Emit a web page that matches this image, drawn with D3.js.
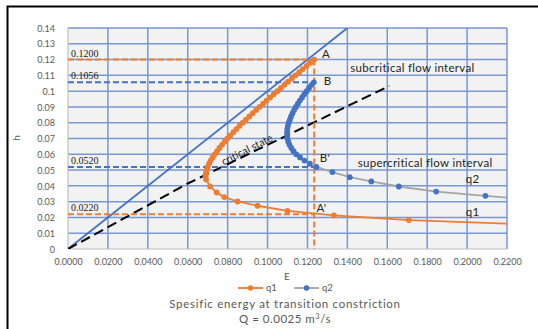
<!DOCTYPE html>
<html>
<head>
<meta charset="utf-8">
<script src="https://cdn.jsdelivr.net/npm/d3@7"></script>
<style>
  body { margin: 0; background: #fff; }
  svg { display: block; }
</style>
</head>
<body>
<svg width="538" height="329"></svg>
<script>
const width = 538;
const height = 329;

const margin = ({top: 28, right: 31, bottom: 80, left: 68});

// q1 series (orange): specific energy E and depth h
const q1E = [0.0692, 0.0690, 0.0691, 0.0695, 0.0700, 0.0707, 0.0715, 0.0725, 0.0735, 0.0747,
  0.0759, 0.0772, 0.0785, 0.0799, 0.0814, 0.0829, 0.0844, 0.0860, 0.0876, 0.0892,
  0.0909, 0.0926, 0.0943, 0.0960, 0.0978, 0.0995, 0.1013, 0.1031, 0.1049, 0.1067,
  0.1085, 0.1103, 0.1122, 0.1140, 0.1159, 0.1177, 0.1196, 0.1215, 0.1234];
const q1H = [0.044, 0.046, 0.048, 0.050, 0.052, 0.054, 0.056, 0.058, 0.060, 0.062,
  0.064, 0.066, 0.068, 0.070, 0.072, 0.074, 0.076, 0.078, 0.080, 0.082,
  0.084, 0.086, 0.088, 0.090, 0.092, 0.094, 0.096, 0.098, 0.100, 0.102,
  0.104, 0.106, 0.108, 0.110, 0.112, 0.114, 0.116, 0.118, 0.120];
const q1LowE = [0.0712, 0.0745, 0.0783, 0.0850, 0.0950, 0.1100, 0.1333, 0.1708, 0.2325];
const q1LowH = [0.0396, 0.0358, 0.0329, 0.0301, 0.0274, 0.0242, 0.0213, 0.0183, 0.0155];

// q2 series (blue markers, gray line)
const q2E = [0.1232, 0.1221, 0.1208, 0.1196, 0.1184, 0.1173, 0.1162, 0.1152, 0.1142, 0.1133,
  0.1125, 0.1118, 0.1112, 0.1106, 0.1102, 0.1099, 0.1098, 0.1098, 0.1100, 0.1104,
  0.1110, 0.1119, 0.1130, 0.1144, 0.1163, 0.1185, 0.1212, 0.1245,
  0.1325, 0.1412, 0.1520, 0.1658, 0.1845, 0.2092, 0.2350];
const q2H = [0.1056, 0.104, 0.102, 0.100, 0.098, 0.096, 0.094, 0.092, 0.090, 0.088,
  0.086, 0.084, 0.082, 0.080, 0.078, 0.076, 0.074, 0.072, 0.070, 0.068,
  0.066, 0.064, 0.062, 0.060, 0.058, 0.056, 0.054, 0.052,
  0.0487, 0.0455, 0.0428, 0.0396, 0.0364, 0.0337, 0.0310];

// reference lines
const lineEqE = [0, 0.14];
const lineEqH = [0, 0.14];
const critE = [0, 0.06, 0.161];
const critH = [0, 0.0415, 0.1033];

const levels = [
  {h: 0.1200, e: 0.1234, label: '0.1200', color: '#ed7d31'},
  {h: 0.1056, e: 0.1232, label: '0.1056', color: '#4472c4'},
  {h: 0.0520, e: 0.1245, label: '0.0520', color: '#4472c4'},
  {h: 0.0220, e: 0.1234, label: '0.0220', color: '#ed7d31'}
];
const pointLabels = [
  {e: 0.1273, h: 0.1210, text: 'A'},
  {e: 0.1282, h: 0.1040, text: 'B'},
  {e: 0.1262, h: 0.0552, text: "B'"},
  {e: 0.1245, h: 0.0232, text: "A'"},
  {e: 0.1993, h: 0.0420, text: 'q2'},
  {e: 0.1993, h: 0.0210, text: 'q1'},
  {e: 0.1415, h: 0.1124, text: 'subcritical flow interval'},
  {e: 0.1452, h: 0.0520, text: 'supercritical flow interval'}
];

const xTicks = d3.range(0, 12).map(i => i * 0.02);
const yTicks = d3.range(0, 15).map(i => i * 0.01);

const x = d3.scaleLinear().domain([0, 0.22]).range([margin.left, width - margin.right]);
const y = d3.scaleLinear().domain([0, 0.14]).range([height - margin.bottom, margin.top]);

const svg = d3.select('svg');
const font = 'Lato, "Open Sans", sans-serif';

// outer frame
svg.append('rect').attr('x', 7.5).attr('y', 6.5).attr('width', 560).attr('height', 360)
    .attr('fill', '#fff').attr('stroke', '#000').attr('stroke-width', 2);

svg.append('rect')
    .attr('x', x(0)).attr('y', y(0.14))
    .attr('width', x(0.22) - x(0)).attr('height', y(0) - y(0.14))
    .attr('fill', '#f2f2f2');

svg.append('defs').append('clipPath').attr('id', 'plot')
  .append('rect')
    .attr('x', x(0)).attr('y', y(0.14))
    .attr('width', x(0.22) - x(0)).attr('height', y(0) - y(0.14));

// gridlines
svg.append('g').attr('stroke', '#7897d6').attr('stroke-width', 1.5)
  .selectAll('line').data(yTicks.slice(1)).join('line')
    .attr('x1', x(0)).attr('x2', x(0.22))
    .attr('y1', d => y(d)).attr('y2', d => y(d));
svg.append('g').attr('stroke', '#7897d6').attr('stroke-width', 1.5)
  .selectAll('line').data(xTicks.slice(1)).join('line')
    .attr('y1', y(0)).attr('y2', y(0.14))
    .attr('x1', d => x(d)).attr('x2', d => x(d));

// axis lines
svg.append('line').attr('x1', x(0)).attr('x2', x(0.22)).attr('y1', y(0)).attr('y2', y(0))
    .attr('stroke', '#bfbfbf').attr('stroke-width', 1.2);
svg.append('line').attr('x1', x(0)).attr('x2', x(0)).attr('y1', y(0)).attr('y2', y(0.14))
    .attr('stroke', '#bfbfbf').attr('stroke-width', 1.2);

const xAxis = g => g.attr('transform', `translate(0,${y(0) + 7})`)
    .call(d3.axisBottom(x).tickValues(xTicks).tickFormat(d3.format('.4f')).tickSize(0))
    .call(g => g.select('.domain').remove())
    .call(g => g.selectAll('text').attr('fill', '#595959').attr('font-size', 9).attr('font-family', font));

const yAxis = g => g.attr('transform', `translate(${x(0) - 10},0)`)
    .call(d3.axisLeft(y).tickValues(yTicks).tickFormat(d => String(+d.toFixed(2))).tickSize(0))
    .call(g => g.select('.domain').remove())
    .call(g => g.selectAll('text').attr('fill', '#595959').attr('font-size', 9)
        .attr('font-family', font).attr('dy', '0.35em'));

svg.append('g').call(xAxis);
svg.append('g').call(yAxis);

const plot = svg.append('g').attr('clip-path', 'url(#plot)');

// h = E line
plot.append('path')
    .datum(d3.zip(lineEqE, lineEqH))
    .attr('fill', 'none').attr('stroke', '#4472c4').attr('stroke-width', 1.8)
    .attr('d', d3.line().x(d => x(d[0])).y(d => y(d[1])));

// critical state line
plot.append('path')
    .datum(d3.zip(critE, critH))
    .attr('fill', 'none').attr('stroke', '#000').attr('stroke-width', 2)
    .attr('stroke-dasharray', '10,5')
    .attr('d', d3.line().x(d => x(d[0])).y(d => y(d[1])));

// level dashes
plot.selectAll('.lvl').data(levels).join('line').attr('class', 'lvl')
    .attr('x1', x(0)).attr('x2', d => x(d.e))
    .attr('y1', d => y(d.h)).attr('y2', d => y(d.h))
    .attr('stroke', d => d.color).attr('stroke-width', 2).attr('stroke-dasharray', '6,3');
plot.append('line')
    .attr('x1', x(levels[0].e)).attr('x2', x(levels[0].e))
    .attr('y1', y(levels[0].h)).attr('y2', y(0))
    .attr('stroke', '#ed7d31').attr('stroke-width', 2).attr('stroke-dasharray', '6,3');

svg.append('g').attr('font-family', '"Liberation Serif", serif').attr('font-size', 10).attr('fill', '#1a1a1a')
  .selectAll('text').data(levels).join('text')
    .attr('x', x(0) + 3).attr('y', d => y(d.h) - 3)
    .text(d => d.label);

const line = d3.line().x(d => x(d[0])).y(d => y(d[1]));

// q2 (gray line + blue markers)
const q2 = d3.zip(q2E, q2H);
plot.append('path').datum(q2)
    .attr('fill', 'none').attr('stroke', '#a5a5a5').attr('stroke-width', 1.8).attr('d', line);
plot.append('g').attr('fill', '#4472c4')
  .selectAll('circle').data(q2).join('circle')
    .attr('cx', d => x(d[0])).attr('cy', d => y(d[1])).attr('r', 2.9);

// q1 (orange)
const q1 = d3.zip(q1E, q1H).reverse().concat(d3.zip(q1LowE, q1LowH));
plot.append('path').datum(q1)
    .attr('fill', 'none').attr('stroke', '#ed7d31').attr('stroke-width', 1.8).attr('d', line);
plot.append('g').attr('fill', '#ed7d31')
  .selectAll('circle').data(q1).join('circle')
    .attr('cx', d => x(d[0])).attr('cy', d => y(d[1])).attr('r', 2.9);

// annotations
svg.append('g').attr('font-family', font).attr('font-size', 11.5).attr('fill', '#262626')
    .attr('letter-spacing', 0.3)
  .selectAll('text').data(pointLabels).join('text')
    .attr('x', d => x(d.e)).attr('y', d => y(d.h))
    .text(d => d.text);

svg.append('text')
    .attr('transform', `translate(${x(0.0905)},${y(0.0609)}) rotate(-27)`)
    .attr('text-anchor', 'middle')
    .attr('font-family', font).attr('font-size', 10.5).attr('fill', '#262626')
    .text('critical state');

// axis titles
svg.append('text').attr('transform', 'translate(20,138) rotate(-90)')
    .attr('text-anchor', 'middle').attr('font-family', font).attr('font-size', 10)
    .attr('fill', '#595959').text('h');
svg.append('text').attr('x', 287).attr('y', 280)
    .attr('text-anchor', 'middle').attr('font-family', font).attr('font-size', 10)
    .attr('fill', '#595959').text('E');

// legend
const legend = [
  {name: 'q1', line: '#ed7d31', dot: '#ed7d31', x: 238},
  {name: 'q2', line: '#a5a5a5', dot: '#4472c4', x: 294}
];
const lg = svg.append('g').selectAll('g').data(legend).join('g')
    .attr('transform', d => `translate(${d.x},288)`);
lg.append('line').attr('x1', 0).attr('x2', 25).attr('stroke', d => d.line).attr('stroke-width', 1.8);
lg.append('circle').attr('cx', 12.5).attr('r', 2.8).attr('fill', d => d.dot);
lg.append('text').attr('x', 28).attr('dy', '0.35em')
    .attr('font-family', font).attr('font-size', 9.5).attr('fill', '#595959')
    .text(d => d.name);

// title below
const title = svg.append('g').attr('font-family', font).attr('font-size', 11.5)
    .attr('fill', '#595959').attr('text-anchor', 'middle');
title.append('text').attr('x', 285).attr('y', 308).attr('letter-spacing', 0.7)
    .text('Spesific energy at transition constriction');
const t2 = title.append('text').attr('x', 285).attr('y', 322.5).attr('letter-spacing', 0.5);
t2.append('tspan').text('Q = 0.0025 m');
t2.append('tspan').attr('font-size', 7.5).attr('dy', -4).text('3');
t2.append('tspan').attr('dy', 4).text('/s');
</script>
</body>
</html>
